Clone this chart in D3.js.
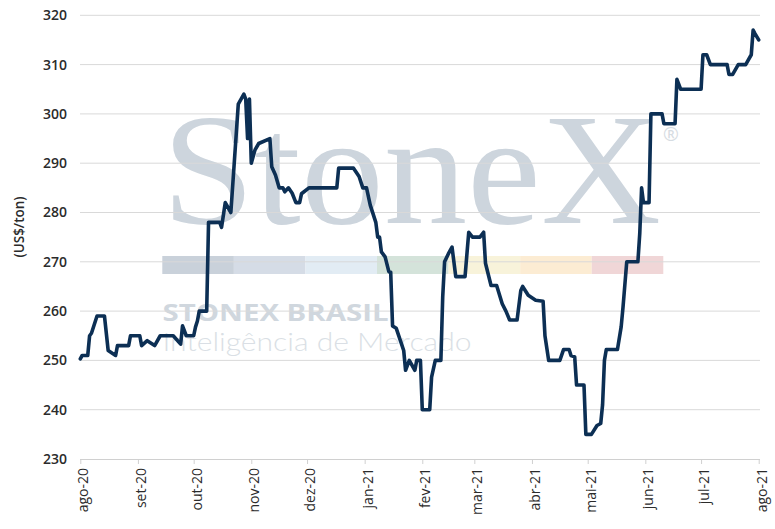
<!DOCTYPE html>
<html>
<head>
<meta charset="utf-8">
<script src="https://cdn.jsdelivr.net/npm/d3@7/dist/d3.min.js"></script>
<style>
  body { margin: 0; background: #fff; }
  svg { display: block; font-family: "Open Sans", "DejaVu Sans", sans-serif; }
</style>
</head>
<body>
<svg id="chart" width="775" height="529"></svg>
<script>
// ---- Data ----
const dates = [
  "2020-08-01","2020-08-02","2020-08-05","2020-08-06","2020-08-07","2020-08-10","2020-08-14","2020-08-16",
  "2020-08-20","2020-08-21","2020-08-27","2020-08-28","2020-09-02","2020-09-03","2020-09-06","2020-09-10",
  "2020-09-13","2020-09-20","2020-09-24","2020-09-25","2020-09-27","2020-10-01","2020-10-02","2020-10-03",
  "2020-10-04","2020-10-08","2020-10-09","2020-10-15","2020-10-16","2020-10-18","2020-10-21","2020-10-25",
  "2020-10-28","2020-10-29","2020-10-30","2020-10-31","2020-11-01","2020-11-03","2020-11-05","2020-11-11",
  "2020-11-12","2020-11-14","2020-11-16","2020-11-18","2020-11-19","2020-11-21","2020-11-23","2020-11-25",
  "2020-11-27","2020-11-28","2020-12-02","2020-12-17","2020-12-18","2020-12-26","2020-12-29","2020-12-31",
  "2021-01-02","2021-01-04","2021-01-07","2021-01-08","2021-01-09","2021-01-10","2021-01-12","2021-01-14",
  "2021-01-15","2021-01-16","2021-01-18","2021-01-22","2021-01-23","2021-01-25","2021-01-28","2021-01-29",
  "2021-01-31","2021-02-01","2021-02-05","2021-02-06","2021-02-08","2021-02-11","2021-02-12","2021-02-13",
  "2021-02-15","2021-02-17","2021-02-19","2021-02-24","2021-02-26","2021-02-28","2021-03-04","2021-03-06",
  "2021-03-07","2021-03-10","2021-03-13","2021-03-16","2021-03-18","2021-03-20","2021-03-24","2021-03-26",
  "2021-03-27","2021-03-30","2021-04-01","2021-04-03","2021-04-07","2021-04-08","2021-04-10","2021-04-16",
  "2021-04-18","2021-04-21","2021-04-22","2021-04-24","2021-04-25","2021-04-29","2021-04-30","2021-05-03",
  "2021-05-06","2021-05-08","2021-05-09","2021-05-10","2021-05-11","2021-05-17","2021-05-19","2021-05-20",
  "2021-05-22","2021-05-28","2021-05-29","2021-05-30","2021-05-31","2021-06-03","2021-06-04","2021-06-10",
  "2021-06-11","2021-06-17","2021-06-18","2021-06-20","2021-07-01","2021-07-02","2021-07-04","2021-07-06",
  "2021-07-15","2021-07-16","2021-07-18","2021-07-21","2021-07-25","2021-07-28","2021-07-29","2021-07-30",
  "2021-08-01"
];
const prices = [
  250.3,251,251,255,255.5,259,259,252,
  251,253,253,255,255,253,254,253,
  255,255,253.3,257,255,255,256.8,258,
  260,260,278,278,277,282,280,302,
  304,303,295,303,290,292.7,294,295,
  289.3,287.6,285,285,284.2,285,283.9,282,
  282,283.8,285,285,289,289,287.3,285,
  285,281.5,278,275,275,272,271,268,
  267.9,257,256.5,252,248,250,248,250,
  250,240,240,246.6,250,250,263,270,
  271.6,273,267,267,276,275,275,276,
  269.7,265.2,265.2,261.5,260,258.2,258.2,264.2,
  265,263.2,262.7,262.2,262,255,250,250,
  252.2,252.2,251,250.7,245,245,235,235,
  236.8,237.2,241,250,252.2,252.2,256.8,260.8,
  270,270,275.7,285,282,282,300,300,
  298,298,307,305,305,312,312,310,
  310,308,308,310,310,312,317,316.3,
  315
];
const yTicks = [230,240,250,260,270,280,290,300,310,320];
const monthTicks = ["2020-08-01","2020-09-01","2020-10-01","2020-11-01","2020-12-01","2021-01-01","2021-02-01",
  "2021-03-01","2021-04-01","2021-05-01","2021-06-01","2021-07-01","2021-08-01"];
const monthLabels = ["ago-20","set-20","out-20","nov-20","dez-20","jan-21","fev-21",
  "mar-21","abr-21","mai-21","jun-21","jul-21","ago-21"];
const yTitle = "(US$/ton)";
const bandColors = ["#c9d1da","#d5dce6","#e2ecf4","#d4e3da","#f8f3da","#fcecd3","#f0d6d7"];

// ---- Setup ----
const parse = d3.utcParse("%Y-%m-%d");
const data = dates.map((d, i) => ({ date: parse(d), value: prices[i] }));
const svg = d3.select("#chart");

const x = d3.scaleUtc()
  .domain([parse(monthTicks[0]), parse(monthTicks[monthTicks.length - 1])])
  .range([80.3, 758.7]);
const y = d3.scaleLinear().domain([230, 320]).range([459, 15.3]);

// ---- Watermark ----
const wm = svg.append("g").attr("class", "watermark");
wm.append("text")
  .attr("x", 162).attr("y", 223)
  .attr("textLength", 499).attr("lengthAdjust", "spacingAndGlyphs")
  .style("font-family", "'Liberation Serif','DejaVu Serif',serif")
  .style("font-size", "158px")
  .attr("fill", "#cdd5dd")
  .text("StoneX");
wm.append("text")
  .attr("x", 663).attr("y", 141)
  .style("font-size", "19px")
  .attr("fill", "#d6dce2")
  .text("®");
const bandX = d3.scaleBand().domain(d3.range(bandColors.length)).range([162.3, 663.3]);
wm.selectAll("rect.band").data(bandColors).join("rect")
  .attr("class", "band")
  .attr("x", (d, i) => bandX(i)).attr("y", 256)
  .attr("width", bandX.bandwidth()).attr("height", 18)
  .attr("fill", d => d);
wm.append("text")
  .attr("x", 162.5).attr("y", 321)
  .attr("textLength", 226).attr("lengthAdjust", "spacingAndGlyphs")
  .style("font-size", "24px").style("font-weight", 700)
  .attr("fill", "#d0d7de")
  .text("STONEX BRASIL");
wm.append("text")
  .attr("x", 162.5).attr("y", 351)
  .attr("textLength", 309).attr("lengthAdjust", "spacingAndGlyphs")
  .style("font-family", "'Lato','Open Sans',sans-serif")
  .style("font-size", "26px").style("font-weight", 300)
  .attr("fill", "#dadfe5")
  .text("Inteligência de Mercado");

// ---- Gridlines ----
svg.append("g").selectAll("line").data(yTicks.filter(t => t !== 230)).join("line")
  .attr("x1", 80).attr("x2", 760)
  .attr("y1", d => y(d)).attr("y2", d => y(d))
  .attr("stroke", "#d9d9d9").attr("stroke-width", 1);

// ---- Y axis labels ----
const yAxis = svg.append("g")
  .attr("transform", "translate(80,0)")
  .call(d3.axisLeft(y).tickValues(yTicks).tickSize(0).tickPadding(13).tickFormat(d3.format("d")));
yAxis.select(".domain").remove();
yAxis.selectAll("text")
  .style("font-family", "'Open Sans',sans-serif")
  .style("font-size", "14px").style("font-weight", 600)
  .attr("fill", "#2b2b2b");

// ---- X axis ----
const xAxis = svg.append("g")
  .attr("transform", `translate(0,${y(230)})`)
  .call(d3.axisBottom(x)
    .tickValues(monthTicks.map(parse))
    .tickSize(5)
    .tickFormat((d, i) => monthLabels[i]));
xAxis.select(".domain").attr("stroke", "#d0d0d0").attr("d", `M80,0.5H760`);
xAxis.selectAll(".tick line").attr("stroke", "#d0d0d0");
xAxis.selectAll("text")
  .attr("transform", "rotate(-90)")
  .attr("x", -9).attr("y", 2.5).attr("dy", "0.35em")
  .style("text-anchor", "end")
  .style("font-family", "'Open Sans',sans-serif")
  .style("font-size", "14px").style("font-weight", 500)
  .attr("fill", "#2b2b2b");

// ---- Y title ----
svg.append("text")
  .attr("transform", "translate(24,227) rotate(-90)")
  .attr("text-anchor", "middle")
  .style("font-size", "13.5px").style("font-weight", 600)
  .attr("fill", "#2b2b2b")
  .text(yTitle);

// ---- Line ----
const line = d3.line().x(d => x(d.date)).y(d => y(d.value));
svg.append("path")
  .datum(data)
  .attr("d", line)
  .attr("fill", "none")
  .attr("stroke", "#0c2f54")
  .attr("stroke-width", 3.6)
  .attr("stroke-linejoin", "round")
  .attr("stroke-linecap", "round");
</script>
</body>
</html>
